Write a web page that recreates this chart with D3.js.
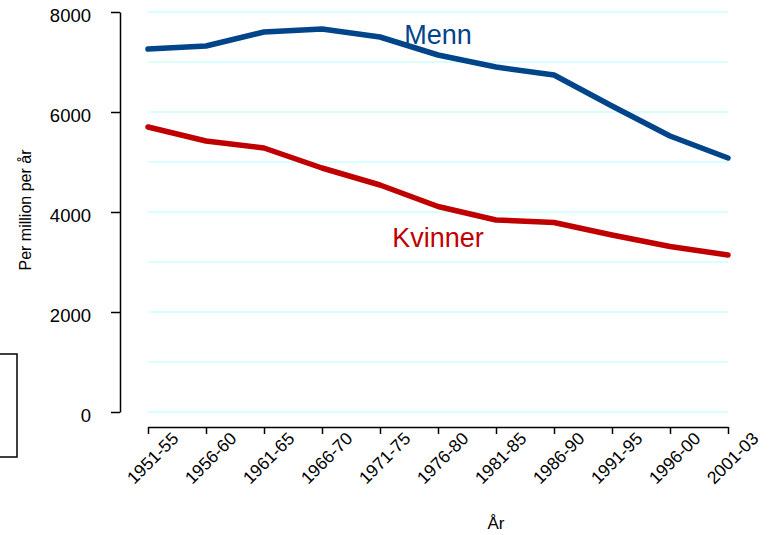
<!DOCTYPE html>
<html>
<head>
<meta charset="utf-8">
<script src="https://cdn.jsdelivr.net/npm/d3@7"></script>
<style>
  body { margin: 0; background: #fff; }
  svg text { font-family: "Liberation Sans", Arial, sans-serif; }
</style>
</head>
<body>
<svg id="chart" width="770" height="535"></svg>
<script>
// periods on the x axis
const periods = ["1951-55", "1956-60", "1961-65", "1966-70", "1971-75", "1976-80",
                 "1981-85", "1986-90", "1991-95", "1996-00", "2001-03"];
// per million per year
const menn    = [7260, 7320, 7600, 7660, 7500, 7140, 6900, 6740, 6120, 5520, 5080];
const kvinner = [5700, 5420, 5280, 4880, 4540, 4110, 3840, 3790, 3540, 3310, 3140];
const yTicks = [0, 2000, 4000, 6000, 8000];
const gridVals = [0, 1000, 2000, 3000, 4000, 5000, 6000, 7000, 8000];

const svg = d3.select("#chart");

// scales
const x = d3.scalePoint(periods, [148, 728]);
const y = d3.scaleLinear([0, 8000], [412, 12]);

// light gridlines
svg.append("g")
  .selectAll("line")
  .data(gridVals)
  .join("line")
  .attr("x1", x(periods[0]))
  .attr("x2", x(periods[periods.length - 1]))
  .attr("y1", d => y(d))
  .attr("y2", d => y(d))
  .attr("stroke", "#ccffff")
  .attr("stroke-width", 1.5);

// y axis
const yAxis = svg.append("g")
  .attr("transform", "translate(120,0)")
  .call(d3.axisLeft(y).tickValues(yTicks).tickFormat(d3.format("d")).tickSize(9).tickPadding(20).tickSizeOuter(0));
yAxis.select(".domain").attr("stroke", "#000").attr("stroke-width", 1.5);
yAxis.selectAll(".tick line").attr("stroke-width", 1.5);
yAxis.selectAll(".tick text")
  .style("font-size", "18.5px")
  .attr("dy", "0.5em")
  .attr("fill", "#000");

// x axis
const xAxis = svg.append("g")
  .attr("transform", "translate(0,427)")
  .call(d3.axisBottom(x).tickSize(7).tickSizeOuter(0));
xAxis.select(".domain").attr("stroke-width", 1.5);
xAxis.selectAll(".tick line").attr("stroke-width", 1.5);
xAxis.selectAll(".tick text")
  .style("font-size", "17.5px")
  .attr("fill", "#000")
  .attr("text-anchor", "middle")
  .attr("y", 0)
  .attr("dy", "0.35em")
  .attr("transform", "translate(4,31) rotate(-45)");

// axis titles
svg.append("text")
  .attr("transform", "translate(31,210) rotate(-90)")
  .attr("text-anchor", "middle")
  .style("font-size", "16px")
  .text("Per million per år");

svg.append("text")
  .attr("x", 496)
  .attr("y", 529)
  .attr("text-anchor", "middle")
  .style("font-size", "17px")
  .text("År");

// lines
const line = d3.line()
  .x((d, i) => x(periods[i]))
  .y(d => y(d));

svg.append("path")
  .datum(menn)
  .attr("d", line)
  .attr("fill", "none")
  .attr("stroke", "#00448a")
  .attr("stroke-width", 5.5)
  .attr("stroke-linecap", "round")
  .attr("stroke-linejoin", "round");

svg.append("path")
  .datum(kvinner)
  .attr("d", line)
  .attr("fill", "none")
  .attr("stroke", "#c00000")
  .attr("stroke-width", 5.5)
  .attr("stroke-linecap", "round")
  .attr("stroke-linejoin", "round");

// line labels
svg.append("text")
  .attr("x", x("1976-80"))
  .attr("y", y(7550))
  .attr("dy", "0.36em")
  .attr("text-anchor", "middle")
  .style("font-size", "27px")
  .attr("fill", "#00448a")
  .text("Menn");

svg.append("text")
  .attr("x", x("1976-80"))
  .attr("y", y(3500))
  .attr("dy", "0.36em")
  .attr("text-anchor", "middle")
  .style("font-size", "27px")
  .attr("fill", "#c00000")
  .text("Kvinner");

// stray box at the left edge
svg.append("rect")
  .attr("x", -10)
  .attr("y", 354)
  .attr("width", 27)
  .attr("height", 103)
  .attr("fill", "none")
  .attr("stroke", "#000")
  .attr("stroke-width", 1.5);
</script>
</body>
</html>
